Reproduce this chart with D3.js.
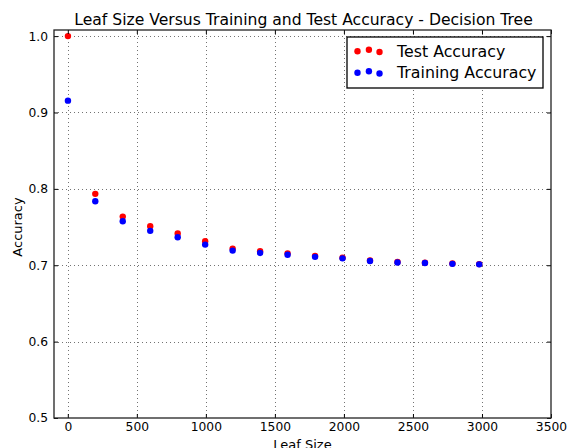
<!DOCTYPE html>
<html>
<head>
<meta charset="utf-8">
<script src="https://cdn.jsdelivr.net/npm/d3@7"></script>
<style>
  body { margin: 0; background: #fff; }
  text { font-family: "DejaVu Sans", sans-serif; fill: #000; }
</style>
</head>
<body>
<svg id="chart"></svg>
<script>
// chart size
var width = 569;
var height = 448;
var margin = {top: 30, right: 18, bottom: 30, left: 54};

// data
var leafSizes = [1, 199, 398, 597, 796, 995, 1194, 1393, 1592, 1791, 1990, 2189, 2388, 2587, 2786, 2980];
var testAccuracy = [1.0, 0.7935, 0.7637, 0.7511, 0.7415, 0.7314, 0.7218, 0.7183, 0.7155, 0.7123, 0.7098, 0.7062, 0.7042, 0.7032, 0.7022, 0.7015];
var trainAccuracy = [0.9155, 0.7838, 0.7576, 0.7450, 0.7367, 0.7270, 0.7192, 0.7161, 0.7138, 0.7110, 0.7090, 0.7055, 0.7035, 0.7030, 0.7018, 0.7012];
var xTicks = [0, 500, 1000, 1500, 2000, 2500, 3000, 3500];
var yTicks = [0.5, 0.6, 0.7, 0.8, 0.9, 1.0];

var svg = d3.select("#chart").attr("width", width).attr("height", height);

var x = d3.scaleLinear().domain([-100, 3500]).range([margin.left, width - margin.right]);
var y = d3.scaleLinear().domain([0.5, 1.008]).range([height - margin.bottom, margin.top]);

var x0 = margin.left, x1 = width - margin.right;
var y0 = height - margin.bottom, y1 = margin.top;

// grid
var grid = svg.append("g").attr("class", "grid")
    .attr("stroke", "#000").attr("stroke-opacity", 0.55)
    .attr("stroke-width", 1).attr("stroke-dasharray", "1,3");
grid.selectAll("line.gx").data(xTicks.filter(function(d){ return d < 3500; }))
  .enter().append("line")
    .attr("x1", function(d){ return Math.round(x(d)) + 0.5; })
    .attr("x2", function(d){ return Math.round(x(d)) + 0.5; })
    .attr("y1", y1).attr("y2", y0);
grid.selectAll("line.gy").data(yTicks.filter(function(d){ return d > 0.5; }))
  .enter().append("line")
    .attr("y1", function(d){ return Math.round(y(d)) + 0.5; })
    .attr("y2", function(d){ return Math.round(y(d)) + 0.5; })
    .attr("x1", x0).attr("x2", x1);

// points
var pts = svg.append("g");
pts.selectAll("circle.test").data(leafSizes)
  .enter().append("circle")
    .attr("cx", function(d){ return x(d); })
    .attr("cy", function(d, i){ return y(testAccuracy[i]); })
    .attr("r", 3.2).attr("fill", "#ff0000");
pts.selectAll("circle.train").data(leafSizes)
  .enter().append("circle")
    .attr("cx", function(d){ return x(d); })
    .attr("cy", function(d, i){ return y(trainAccuracy[i]); })
    .attr("r", 3.2).attr("fill", "#0000ff");

// axes (ticks inside, on all four sides)
var xAxisB = d3.axisBottom(x).tickValues(xTicks).tickSizeInner(-4).tickSizeOuter(0).tickPadding(4)
    .tickFormat(d3.format("d"));
var xAxisT = d3.axisTop(x).tickValues(xTicks).tickSizeInner(-4).tickSizeOuter(0).tickFormat("");
var yAxisL = d3.axisLeft(y).tickValues(yTicks).tickSizeInner(-4).tickSizeOuter(0).tickPadding(6)
    .tickFormat(d3.format(".1f"));
var yAxisR = d3.axisRight(y).tickValues(yTicks).tickSizeInner(-4).tickSizeOuter(0).tickFormat("");

function styleAxis(g) {
  g.select(".domain").remove();
  g.selectAll("line").attr("stroke", "#000");
  g.selectAll("text").style("font-size", "12.3px").attr("fill", "#000");
}
svg.append("g").attr("transform", "translate(0," + y0 + ")").call(xAxisB).call(styleAxis);
svg.append("g").attr("transform", "translate(0," + y1 + ")").call(xAxisT).call(styleAxis);
svg.append("g").attr("transform", "translate(" + x0 + ",0)").call(yAxisL).call(styleAxis);
svg.append("g").attr("transform", "translate(" + x1 + ",0)").call(yAxisR).call(styleAxis);

// frame
svg.append("rect").attr("x", x0).attr("y", y1)
    .attr("width", x1 - x0).attr("height", y0 - y1)
    .attr("fill", "none").attr("stroke", "#222").attr("stroke-width", 1.3);

// title and labels
svg.append("text").attr("x", (x0 + x1) / 2 + 1).attr("y", 25)
    .attr("text-anchor", "middle").style("font-size", "15.6px")
    .text("Leaf Size Versus Training and Test Accuracy - Decision Tree");
svg.append("text").attr("x", (x0 + x1) / 2).attr("y", 448.5)
    .attr("text-anchor", "middle").style("font-size", "13px").text("Leaf Size");
svg.append("text").attr("transform", "translate(22," + ((y0 + y1) / 2 + 3) + ") rotate(-90)")
    .attr("text-anchor", "middle").style("font-size", "13px").text("Accuracy");

// legend
var legendItems = [
  {name: "Test Accuracy", color: "#ff0000"},
  {name: "Training Accuracy", color: "#0000ff"}
];
var dotOffsets = [{dx: 0, dy: 0.3}, {dx: 11.4, dy: -1.3}, {dx: 22, dy: 1}];
var legend = svg.append("g").attr("transform", "translate(347,37)");
legend.append("rect").attr("width", 196).attr("height", 51)
    .attr("fill", "#fff").attr("stroke", "#000").attr("stroke-width", 1.3);
var rows = legend.selectAll("g.row").data(legendItems).enter().append("g")
    .attr("transform", function(d, i){ return "translate(0," + (14 + i * 21.5) + ")"; });
rows.selectAll("circle").data(function(d){ return dotOffsets.map(function(o){ return {o: o, c: d.color}; }); })
  .enter().append("circle")
    .attr("cx", function(d){ return 10.5 + d.o.dx; })
    .attr("cy", function(d){ return d.o.dy; })
    .attr("r", 3.2).attr("fill", function(d){ return d.c; });
rows.append("text").attr("x", 50).attr("y", 5.5).style("font-size", "15.8px")
    .text(function(d){ return d.name; });
</script>
</body>
</html>
